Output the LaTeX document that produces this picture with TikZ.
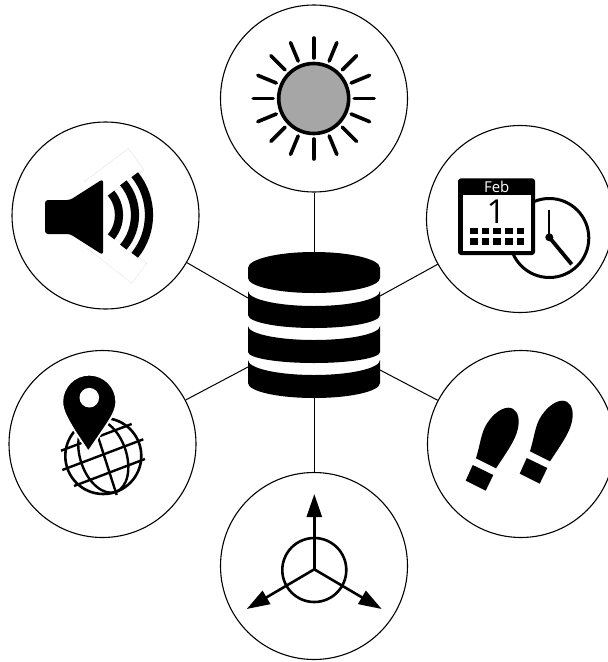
\documentclass[tikz,border=0pt]{standalone}
\usepackage{fontspec}
\setsansfont{Open Sans}
\usepackage{tikz}
\usetikzlibrary{arrows.meta}
\definecolor{sun-gray}{HTML}{A6A6A6}
\tikzset{
    hub/.style={draw, circle, line width=1.1pt, inner sep=0pt, minimum size=187pt},
    link/.style={line width=1pt},
    ray/.style={line width=3.6pt, line cap=round},
    wave/.style={line width=8.2pt},
    axisline/.style={line width=2.6pt, -{Triangle[length=23pt,width=15pt]}},
    gridline/.style={line width=2.4pt},
}

\begin{document}
\begin{tikzpicture}[x=1pt, y=-1pt]
    \clip (0,0) rectangle (608,662);
    % the six circles
    \node[hub] (sun) at (314,98.5) {};
    \node[hub] (speaker) at (105.5,215.5) {};
    \node[hub] (calendar) at (520,219) {};
    \node[hub] (location) at (102.5,444) {};
    \node[hub] (steps) at (521,444) {};
    \node[hub] (axes) at (314,566) {};

    % database in the middle
    \node[minimum width=132pt, minimum height=146pt, inner sep=0pt] (db) at (314,325) {};
    \coordinate (dbnw) at (248,298);
    \coordinate (dbne) at (380,296);
    \coordinate (dbsw) at (248,367);
    \coordinate (dbse) at (380,370);
    \draw[link] (sun) -- (db.north);
    \draw[link] (axes) -- (db.south);
    \draw[link] (speaker) -- (dbnw);
    \draw[link] (calendar) -- (dbne);
    \draw[link] (location) -- (dbsw);
    \draw[link] (steps) -- (dbse);
    \fill (248,268) arc (180:360:66 and 16) -- (380,278) arc (0:180:66 and 15) -- cycle;
    \foreach \topy/\topsag/\boty/\botsag in {291/15/315/13, 326/14/352/11, 360/15/383/15}
        \fill (248,\topy) arc (180:0:66 and \topsag) -- (380,\boty) arc (0:180:66 and \botsag) -- cycle;

    % sun
    \draw[line width=3.6pt, fill=sun-gray] (313.7,98.5) circle (35);
    \foreach \ang in {0,22.5,...,337.5}
        \draw[ray] (313.7,98.5) ++(\ang:40.5) -- ++(\ang:20);

    % speaker
    \draw[gray!22, line width=0.4pt] (105,198) -- (144,170) -- (128.3,148.3) -- (84.3,181.7);
    \draw[gray!22, line width=0.4pt] (107,232) -- (146.7,263.3) -- (131.7,283.3) -- (87.3,248.3);
    \fill[rounded corners=3pt] (45,200) -- (70,200) -- (103,179) -- (103,255) -- (70,234) -- (45,234) -- cycle;
    \draw[wave] (85,215) ++(-40:34) arc (-40:40:34);
    \draw[wave] (85,215) ++(-40:50) arc (-40:40:50);
    \draw[wave] (85,215) ++(-39:64) arc (-39:39:64);

    % calendar and clock
    \draw[line width=3pt] (549.3,238) circle (39.5);
    \draw[line width=2.2pt] (549.3,237.3) -- (549.3,210);
    \draw[line width=3.8pt] (549.3,237.3) -- (571.7,264.3);
    \fill (549.3,237.3) circle (4);
    \fill[rounded corners=3pt] (458,178.3) rectangle (535,255);
    \fill[white] (463.3,195) rectangle (530.7,250.7);
    \node[white, font=\sffamily\fontsize{15}{15}\selectfont, inner sep=0pt] (febtext) at (496.7,187) {Feb};
    \node[font=\sffamily\fontsize{33}{33}\selectfont, inner sep=0pt] (daytext) at (496,211.5) {1};
    \foreach \col in {0,...,4}
        \foreach \row in {231,241.7}
            \fill (470+\col*11.7,\row-3.4) rectangle ++(7.6,6.8);

    % globe with pin
    \draw[line width=2.6pt] (103.3,456) circle (38);
    \draw[line width=2.4pt, rotate around={19:(103.3,456)}] (103.3,456) ellipse (23 and 38);
    \draw[gridline] (61,450.7) -- (131.7,424);
    \draw[gridline] (62.3,470) -- (143.3,439.3);
    \draw[gridline] (74,486) -- (145,459);
    \draw[gridline] (116.7,495) -- (92,418);
    \draw[white, fill=black, line width=1.8pt] (88.3,451.7) -- (75,431.7) .. controls (68,420) and (62.3,411) .. (62.3,401.7) arc (180:360:27) .. controls (116.3,411) and (110,420) .. (102,431.7) -- cycle;
    \fill[white] (89.3,397.7) circle (9.8);

    % footprints
    \foreach \dx/\dy in {0/0,54/-7} {
        \begin{scope}[shift={(\dx,\dy)}]
            \fill (476,458.3) .. controls (480,445) and (481,435) .. (485,427) .. controls (490,417) and (500,407.7) .. (508.3,407.7) .. controls (516,407.7) and (519,415) .. (518.7,423) .. controls (518,437) and (508,450) .. (496,468.3) -- cycle;
            \fill (472.7,465) -- (493.3,475) -- (485.7,490.7) -- (465.7,480.7) -- cycle;
        \end{scope}
    }

    % three axes
    \coordinate (axo) at (314.3,569.3);
    \coordinate (axup) at (314.3,494);
    \coordinate (axleft) at (246.7,609);
    \coordinate (axright) at (381.7,609);
    \draw[line width=2.6pt] (314.3,570) circle (32);
    \draw[axisline] (axo) -- (axup);
    \draw[axisline] (axo) -- (axleft);
    \draw[axisline] (axo) -- (axright);
\end{tikzpicture}
\end{document}
